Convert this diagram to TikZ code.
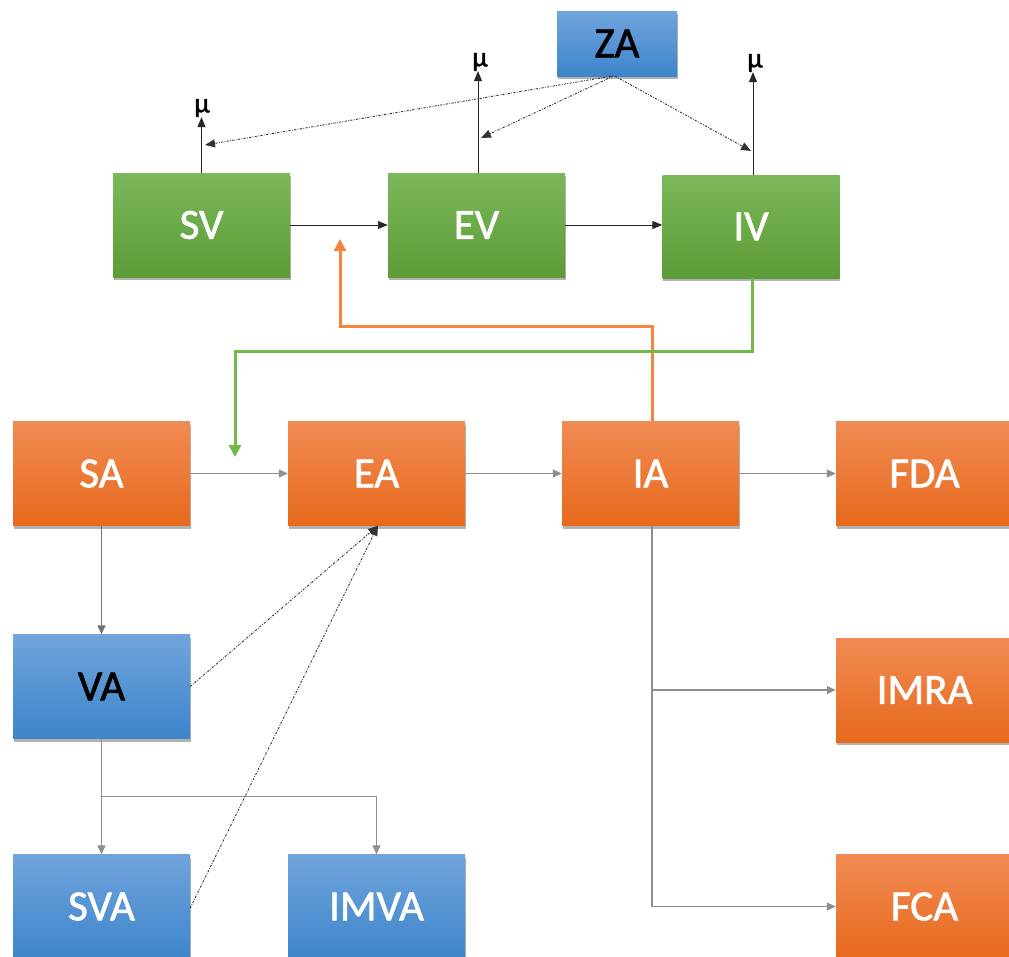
\documentclass[tikz,border=0pt]{standalone}
\usepackage{fontspec}
\setmainfont{Carlito}
\newfontfamily\boxfont[FakeBold=1.5]{Carlito}
\usetikzlibrary{arrows.meta,shadows}

\definecolor{gTop}{HTML}{7BB85A}
\definecolor{gBot}{HTML}{5C9C36}
\definecolor{oTop}{HTML}{F18B53}
\definecolor{oBot}{HTML}{E7691C}
\definecolor{bTop}{HTML}{70A4DB}
\definecolor{bBot}{HTML}{3D85CC}
\definecolor{lineGray}{HTML}{8E8E8E}
\definecolor{orangeLine}{HTML}{F5843E}
\definecolor{greenLine}{HTML}{72B84A}

\tikzset{
  box/.style={rectangle, inner sep=0pt, minimum width=177pt, minimum height=104pt,
    font=\boxfont\fontsize{43}{43}\selectfont,
    drop shadow={shadow xshift=0.8pt, shadow yshift=-3pt, opacity=0.3, fill=black}},
  gbox/.style={box, top color=gTop, bottom color=gBot, text=white},
  obox/.style={box, top color=oTop, bottom color=oBot, text=white},
  bbox/.style={box, top color=bTop, bottom color=bBot, text=black},
  bwbox/.style={bbox, text=white},
  mulabel/.style={inner sep=0pt, font=\boxfont\fontsize{28}{28}\selectfont},
  blk/.style={draw=black!85, line width=0.9pt, -{Triangle[length=10pt,width=8pt]}},
  gry/.style={draw=lineGray, line width=1.1pt, -{Triangle[length=9pt,width=8pt]}},
  dgry/.style={draw=black!55, line width=1.4pt, -{Triangle[length=9pt,width=8pt]}},
  dots/.style={draw=black!80, line width=0.9pt,
    dash pattern=on 2.2pt off 1.4pt on 0.7pt off 1.4pt,
    -{Triangle[length=10pt,width=8pt]}},
  orng/.style={draw=orangeLine, line width=3pt, -{Triangle[length=12pt,width=12pt]}},
  grn/.style={draw=greenLine, line width=3pt, -{Triangle[length=12pt,width=12pt]}},
}

\begin{document}
\begin{tikzpicture}[x=1pt,y=-1pt]
\useasboundingbox (0,0) rectangle (1009,956);

% vector compartments
\node[bbox, minimum width=120pt, minimum height=65pt] (ZA) at (617,43.5) {ZA};
\node[gbox] (SV) at (201.5,225) {SV};
\node[gbox] (EV) at (476.5,225) {EV};
\node[gbox, minimum height=103pt] (IV) at (751,226.5) {IV};

% host compartments
\node[obox] (SA) at (101.5,473.5) {SA};
\node[obox] (EA) at (376.5,473.5) {EA};
\node[obox] (IA) at (650.5,473.5) {IA};
\node[obox] (FDA) at (924.5,473.5) {FDA};
\node[bbox] (VA) at (101.5,686.5) {VA};
\node[obox] (IMRA) at (924.5,690) {IMRA};
\node[bwbox] (SVA) at (101.5,906.5) {SVA};
\node[bwbox] (IMVA) at (376.5,906.5) {IMVA};
\node[obox] (FCA) at (924.5,906.5) {FCA};

% mortality outflows of the vectors
\node[mulabel] (mu1) at (202,108) {μ};
\node[mulabel] (mu2) at (480,62) {μ};
\node[mulabel] (mu3) at (755,63) {μ};
\draw[blk] (SV.north) -- (SV.north |- mu1.south);
\draw[blk] ([xshift=1.5pt]EV.north) -- ([xshift=1.5pt]EV.north |- mu2.south);
\draw[blk] ([xshift=2pt]IV.north) -- ([xshift=2pt]IV.north |- mu3.south);

% control effect on vector mortality
\coordinate (zSV) at (205,145);
\coordinate (zEV) at (481,138);
\coordinate (zIV) at (751,151);
\draw[dots] ([xshift=-6pt]ZA.south) -- (zSV);
\draw[dots] ([xshift=-4pt]ZA.south) -- (zEV);
\draw[dots] ([xshift=-2pt]ZA.south) -- (zIV);

% vector progression
\draw[blk] (SV.east) -- (EV.west);
\draw[blk] (EV.east) -- (EV.east -| IV.west);

% cross infection
\coordinate (oEnd) at (340,239);
\coordinate (gEnd) at (235,457);
\draw[orng] ([xshift=1.5pt]IA.north) -- ++(0,-95) -| (oEnd);
\draw[grn] ([xshift=1.5pt]IV.south) -- ++(0,73) -| (gEnd);

% host progression
\draw[gry] (SA.east) -- (EA.west);
\draw[gry] (EA.east) -- (IA.west);
\draw[gry] (IA.east) -- (FDA.west);
\draw[dgry] (SA.south) -- (VA.north);
\draw[gry] (VA.south) -- (SVA.north);
\draw[gry] (VA.south) -- ++(0,58) -| (IMVA.north);
\draw[gry] ([xshift=1.5pt]IA.south) |- (FCA.west);
\draw[gry] ([xshift=1.5pt]IA.south |- IMRA.west) -- (IMRA.west);

% waning protection back to exposure
\draw[dots] (VA.east) -- ([xshift=1.5pt]EA.south);
\draw[dots] ([yshift=-1.5pt]SVA.east) -- ([xshift=1.5pt]EA.south);
\end{tikzpicture}
\end{document}
